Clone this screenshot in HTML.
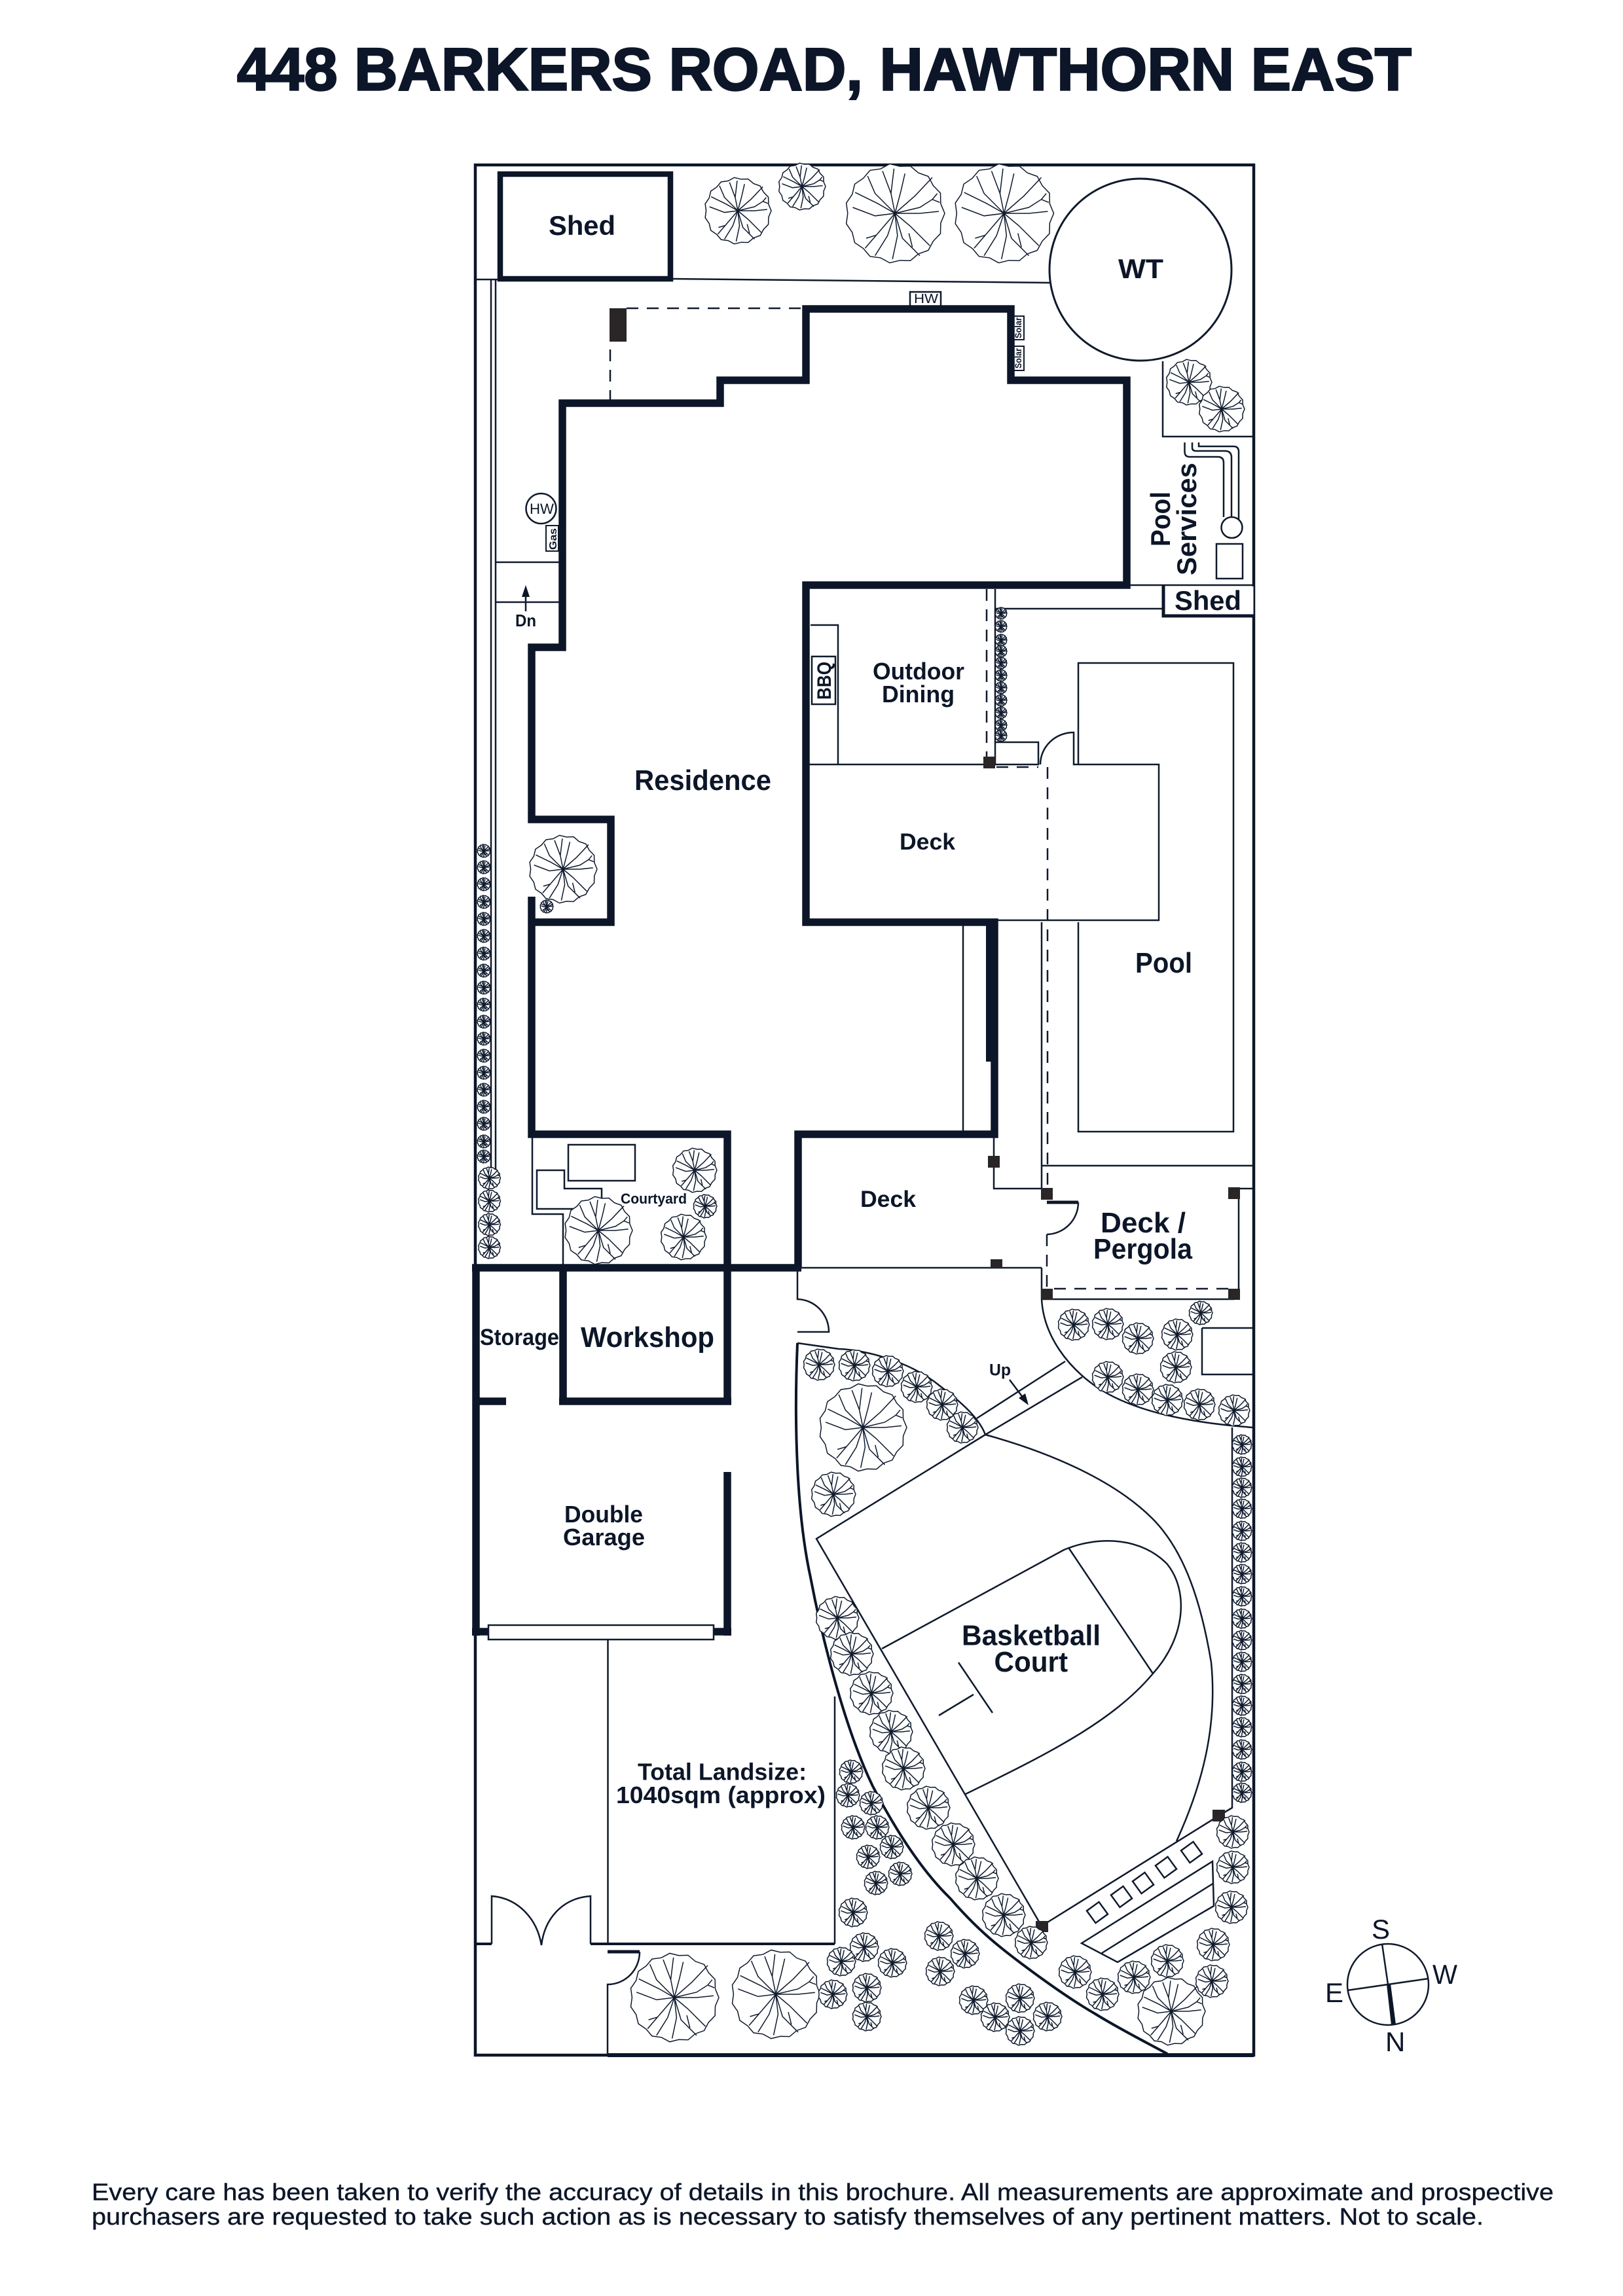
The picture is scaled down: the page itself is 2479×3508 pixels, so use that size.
<!DOCTYPE html>
<html><head><meta charset="utf-8"><title>448 Barkers Road, Hawthorn East</title>
<style>
html,body{margin:0;padding:0;background:#fff}
svg{display:block}
text{font-family:"Liberation Sans",sans-serif;font-weight:700;fill:#0c1628}
.l{fill:none;stroke:#0f1a2c;stroke-width:2.5}
.w{fill:none;stroke:#0c1628;stroke-width:11.5;stroke-linejoin:miter}
.d{fill:none;stroke:#0f1a2c;stroke-width:2.5;stroke-dasharray:18 13}
.p{fill:#2a2627}
.r{font-weight:400}
.t path{fill:#fff;stroke:#0f1a2c;stroke-width:1.5;vector-effect:non-scaling-stroke}
</style></head><body>
<svg xmlns="http://www.w3.org/2000/svg" width="2479" height="3508" viewBox="0 0 2479 3508">
<defs>
<g id="t" class="t"><path d="M100 0L91.9 19.5 91.4 40.7 76.9 55.8 66.9 74.3 47 81.4 30.9 95.1 9.9 94.5-10.5 99.5-29 89.4-50 86.6-63.6 70.6-80.9 58.8-85.9 38.2-97.8 20.8-95 0-97.8-20.8-85.9-38.2-80.9-58.8-63.6-70.6-50-86.6-29-89.4-10.5-99.5 9.9-94.5 30.9-95.1 47-81.4 66.9-74.3 76.9-55.8 91.4-40.7 91.9-19.5Z"/><path d="M0 0L-8-40-25-85M-8-40L-2-90M0 0L12-45 20-80M0 0L40-35 75-72M0 0L50-12 75-28 85-40M75-28L90-22M0 0L50 0 88-4M0 0L30 25 70 65M0 0L15 50 50 85M28 40L35 68M0 0L5 45-5 92M0 0L-15 45-40 85M0 0L-30 35-60 70M-38 44L-58 50M0 0L-40 5-85-12M0 0L-35-20-80-42M0 0L-40-40-55-75"/></g>
</defs>
<rect width="2479" height="3508" fill="#fff"/>

<text x="362" y="137.5" font-size="91.5" textLength="1794" lengthAdjust="spacingAndGlyphs" stroke="#0c1628" stroke-width="2.5">448 BARKERS ROAD, HAWTHORN EAST</text>

<path d="M726 252H1915V3140H726Z" fill="none" stroke="#0c1628" stroke-width="4.5"/>
<path d="M928 3140H1915" fill="none" stroke="#0c1628" stroke-width="6"/>

<rect x="764" y="266" width="260" height="160" fill="#fff" stroke="#0c1628" stroke-width="8.5"/>
<path class="l" d="M726 427H760M1028 426L1603 432"/>
<path class="l" d="M750 426V1791M757 426V1791M757 859H854M757 920H854"/>
<path class="l" d="M1776 552V667H1915"/>
<path class="l" d="M1721 894H1915M1520 930H1775"/>
<rect x="1776.500" y="896" width="138" height="45" fill="#fff" stroke="none"/>
<path d="M1915 941H1777V894" fill="none" stroke="#0c1628" stroke-width="5"/>

<path class="l" d="M1809.500 676V690Q1809.500 698 1817 698H1860Q1869 698 1869 707V790M1821 676V684Q1821 689 1827 689H1871Q1881 689 1881 699V790M1831 676V682H1884Q1892 682 1892 690V795"/>
<circle cx="1881.500" cy="806" r="16" fill="#fff" stroke="#0f1a2c" stroke-width="2.500"/>
<rect x="1858" y="831" width="40" height="53" fill="none" stroke="#0f1a2c" stroke-width="2.500"/>

<circle cx="1742" cy="412" r="139" fill="#fff" stroke="#0f1a2c" stroke-width="3"/>

<rect x="931" y="471" width="26" height="51" class="p"/>
<path class="d" d="M957 471H1226"/>
<path class="d" d="M932 534V616"/>
<rect x="1340" y="889" width="36" height="9" class="p"/>

<rect x="1390" y="446" width="47" height="22" fill="#fff" stroke="#0f1a2c" stroke-width="2.500"/>
<rect x="1548" y="483" width="16" height="36" fill="#fff" stroke="#0f1a2c" stroke-width="2"/>
<rect x="1548" y="529" width="16" height="37" fill="#fff" stroke="#0f1a2c" stroke-width="2"/>
<rect x="834" y="803" width="19" height="39" fill="#fff" stroke="#0f1a2c" stroke-width="2"/>
<circle cx="826.500" cy="777" r="23" fill="#fff" stroke="#0f1a2c" stroke-width="2.500"/>

<path class="l" d="M803 934V900"/><path d="M803 894L797 912H809Z" fill="#0c1628"/>

<path class="l" d="M1238 955H1280V1168M1231 1168H1511"/>
<rect x="1240" y="1003" width="36" height="73" fill="#fff" stroke="#0f1a2c" stroke-width="2.500"/>
<path class="d" d="M1507 900V1156"/>
<path class="l" d="M1520 900V1134"/>
<rect x="1520" y="1134" width="66" height="34" fill="#fff" stroke="#0f1a2c" stroke-width="2.500"/>
<path class="d" d="M1522 1172H1586" stroke-dasharray="12 10"/>
<path class="l" d="M1589 1168A51 49 0 0 1 1640 1119V1168H1770V1406H1522"/>
<path class="l" d="M1647 1168V1013H1884V1729H1647V1409"/>
<path class="d" d="M1600 1172V1823"/>
<path class="l" d="M1591 1409V1816M1591 1937V1985M1591 1781H1915"/>
<path class="l" d="M1471 1409V1733"/>
<rect x="1506" y="1409" width="18" height="213" fill="#0c1628"/>

<path class="l" d="M813 1733V1855H860V1937"/>
<rect x="868" y="1749" width="102" height="55" fill="none" stroke="#0f1a2c" stroke-width="2.500"/>
<path class="l" d="M820 1788H862V1816H919V1847H820Z"/>

<path class="w" d="M812 1370V1733H1111V1937"/>
<path class="w" d="M1219 1937V1733H1519V1409H1231V894H1721V581H1544V472H1231V581H1100V616H859V989H812V1252H933V1409H812"/>
<path class="w" d="M721 1937H1224M727 1937V2499M860 1937V2141M854 2141H1117M1111 1937V2141M1111 2249V2499M721 2493H746M1090 2493H1117M722 2141H773"/>
<rect x="746" y="2483" width="344" height="22" fill="#fff" stroke="#0f1a2c" stroke-width="2.500"/>

<path class="l" d="M1518 1733V1816H1591"/>
<path d="M1599 1837H1647" fill="none" stroke="#0c1628" stroke-width="5"/>
<path class="l" d="M1647 1837A49 49 0 0 1 1599 1886"/>
<path class="d" d="M1599 1886V1970"/>
<path class="l" d="M1218 1937H1591M1892 1823V1977M1892 1816H1914M1591 1985H1885"/>
<path class="d" d="M1610 1969H1885"/>
<rect x="1509" y="1766" width="18" height="18" class="p"/>
<rect x="1590" y="1815" width="18" height="18" class="p"/>
<rect x="1513" y="1924" width="18" height="13" class="p"/>
<rect x="1590" y="1969" width="18" height="17" class="p"/>
<rect x="1876" y="1969" width="18" height="17" class="p"/>
<rect x="1876" y="1814" width="18" height="18" class="p"/>
<rect x="1502" y="1156" width="18" height="18" class="p"/>

<path class="l" d="M1218 1937V1985A49 50 0 0 1 1266 2035H1218"/>
<path d="M1218 2052C1213 2170 1216 2310 1238 2410C1255 2500 1290 2640 1333 2729C1370 2800 1410 2860 1451 2900C1490 2945 1520 2970 1560 3000C1600 3030 1640 3058 1673 3077C1710 3100 1750 3120 1783 3138" fill="none" stroke="#0c1628" stroke-width="4"/>
<path class="l" d="M1218 2052L1281 2061C1320 2062 1390 2080 1435 2117C1465 2140 1495 2165 1505 2192"/>
<path class="l" d="M1505 2192C1600 2218 1700 2260 1760 2320C1810 2370 1835 2450 1850 2540C1860 2640 1835 2730 1797 2813"/>
<path class="l" d="M1505 2192L1247 2351L1591 2943"/>
<path class="l" d="M1347 2519L1625 2368C1680 2345 1745 2350 1783 2390C1815 2430 1812 2500 1761 2557C1700 2630 1600 2680 1475 2741"/>
<path class="l" d="M1633 2366L1761 2557M1464 2540L1516 2617M1434 2621L1487 2589"/>
<path class="l" d="M1492 2167L1627 2080M1505 2192L1653 2104"/>
<path class="l" d="M1542 2108L1566 2140"/><path d="M1571 2147L1556 2136L1566 2129Z" fill="#0c1628"/>
<path class="l" d="M1591 1985C1594 2040 1630 2090 1681 2123C1740 2160 1830 2175 1914 2181"/>
<path class="l" d="M1836 2029H1914M1836 2029V2100H1914"/>
<path class="l" d="M1882 2181V2762L1862 2774L1600 2937"/>
<rect x="1852" y="2765" width="19" height="18" class="p"/>
<rect x="1582" y="2935" width="19" height="17" class="p"/>
<path class="l" d="M1652 2969L1852 2844L1854 2912L1707 2998ZM1683 2984L1852.500 2878"/>
<g fill="none" stroke="#0f1a2c" stroke-width="2.500">
<rect x="-11.500" y="-11.500" width="23" height="23" transform="translate(1676 2922) rotate(-36)"/>
<rect x="-11.500" y="-11.500" width="23" height="23" transform="translate(1713 2898) rotate(-36)"/>
<rect x="-11.500" y="-11.500" width="23" height="23" transform="translate(1746 2877) rotate(-36)"/>
<rect x="-11.500" y="-11.500" width="23" height="23" transform="translate(1781 2853) rotate(-36)"/>
<rect x="-11.500" y="-11.500" width="23" height="23" transform="translate(1820 2830) rotate(-36)"/>
</g>

<path class="l" d="M928.500 2505V2970M1275 2592V2970"/>
<path d="M726 2970H751M902 2970H1275" fill="none" stroke="#0c1628" stroke-width="4"/>
<path class="l" d="M751 2970V2897C790 2900 820 2930 827 2972C832 2930 860 2900 902 2897V2970"/>
<path d="M928 2982H977" fill="none" stroke="#0c1628" stroke-width="5"/>
<path class="l" d="M977 2982C977 3010 955 3032 928 3032V3140"/>

<!-- big trees -->
<use href="#t" transform="translate(1127 322) scale(.51)"/>
<use href="#t" transform="translate(1225 285) scale(.36)"/>
<use href="#t" transform="translate(1367 326) scale(.76)"/>
<use href="#t" transform="translate(1533.500 326) scale(.76)"/>
<use href="#t" transform="translate(1816 584) scale(.35)"/>
<use href="#t" transform="translate(1866 625) scale(.35)"/>
<use href="#t" transform="translate(860 1328) scale(.52)"/>
<use href="#t" transform="translate(835 1385) scale(.1)"/>
<use href="#t" transform="translate(914 1880) scale(.52)"/>
<use href="#t" transform="translate(1061 1788) scale(.34)"/>
<use href="#t" transform="translate(1077 1843) scale(.18)"/>
<use href="#t" transform="translate(1044 1890) scale(.35)"/>
<use href="#t" transform="translate(1318 2181) scale(.67)"/>
<use href="#t" transform="translate(1273 2283) scale(.34)"/>
<use href="#t" transform="translate(1030 3052) scale(.68)"/>
<use href="#t" transform="translate(1185 3047) scale(.68)"/>
<use href="#t" transform="translate(1789 3073) scale(.52)"/>

<!-- left hedge -->
<g>
<use href="#t" transform="translate(739 1300) scale(.1)"/><use href="#t" transform="translate(739 1325) scale(.1)"/><use href="#t" transform="translate(739 1351) scale(.1)"/><use href="#t" transform="translate(739 1378) scale(.1)"/><use href="#t" transform="translate(739 1404) scale(.1)"/><use href="#t" transform="translate(739 1430) scale(.1)"/><use href="#t" transform="translate(739 1457) scale(.1)"/><use href="#t" transform="translate(739 1483) scale(.1)"/><use href="#t" transform="translate(739 1509) scale(.1)"/><use href="#t" transform="translate(739 1535) scale(.1)"/><use href="#t" transform="translate(739 1561) scale(.1)"/><use href="#t" transform="translate(739 1587) scale(.1)"/><use href="#t" transform="translate(739 1613) scale(.1)"/><use href="#t" transform="translate(739 1639) scale(.1)"/><use href="#t" transform="translate(739 1665) scale(.1)"/><use href="#t" transform="translate(739 1691) scale(.1)"/><use href="#t" transform="translate(739 1717) scale(.1)"/><use href="#t" transform="translate(739 1744) scale(.1)"/><use href="#t" transform="translate(739 1767) scale(.1)"/>
<use href="#t" transform="translate(747.500 1800) scale(.17)"/><use href="#t" transform="translate(747.500 1835) scale(.17)"/><use href="#t" transform="translate(747.500 1871) scale(.17)"/><use href="#t" transform="translate(747.500 1906) scale(.17)"/>
</g>
<!-- dining hedge -->
<g>
<use href="#t" transform="translate(1529 937) scale(.09)"/><use href="#t" transform="translate(1529 957) scale(.09)"/><use href="#t" transform="translate(1529 978) scale(.09)"/><use href="#t" transform="translate(1529 995) scale(.09)"/><use href="#t" transform="translate(1529 1013) scale(.09)"/><use href="#t" transform="translate(1529 1032) scale(.09)"/><use href="#t" transform="translate(1529 1051) scale(.09)"/><use href="#t" transform="translate(1529 1070) scale(.09)"/><use href="#t" transform="translate(1529 1089) scale(.09)"/><use href="#t" transform="translate(1529 1108) scale(.09)"/><use href="#t" transform="translate(1529 1124) scale(.09)"/>
</g>
<!-- right hedge -->
<g>
<use href="#t" transform="translate(1897 2207) scale(.15)"/><use href="#t" transform="translate(1897 2241) scale(.15)"/><use href="#t" transform="translate(1897 2273) scale(.15)"/><use href="#t" transform="translate(1897 2305) scale(.15)"/><use href="#t" transform="translate(1897 2339) scale(.15)"/><use href="#t" transform="translate(1897 2372) scale(.15)"/><use href="#t" transform="translate(1897 2405) scale(.15)"/><use href="#t" transform="translate(1897 2439) scale(.15)"/><use href="#t" transform="translate(1897 2473) scale(.15)"/><use href="#t" transform="translate(1897 2506) scale(.15)"/><use href="#t" transform="translate(1897 2539) scale(.15)"/><use href="#t" transform="translate(1897 2573) scale(.15)"/><use href="#t" transform="translate(1897 2606) scale(.15)"/><use href="#t" transform="translate(1897 2639) scale(.15)"/><use href="#t" transform="translate(1897 2673) scale(.15)"/><use href="#t" transform="translate(1897 2707) scale(.15)"/><use href="#t" transform="translate(1897 2739) scale(.15)"/>
</g>
<!-- beds -->
<g>
<use href="#t" transform="translate(1251 2085) scale(.24)"/><use href="#t" transform="translate(1305 2086) scale(.24)"/><use href="#t" transform="translate(1356 2095) scale(.24)"/><use href="#t" transform="translate(1400 2119) scale(.24)"/><use href="#t" transform="translate(1439 2146) scale(.24)"/><use href="#t" transform="translate(1470 2181) scale(.24)"/>
<use href="#t" transform="translate(1640 2024) scale(.24)"/><use href="#t" transform="translate(1692 2023) scale(.24)"/><use href="#t" transform="translate(1738 2045) scale(.24)"/><use href="#t" transform="translate(1798 2039) scale(.24)"/><use href="#t" transform="translate(1834 2006) scale(.18)"/><use href="#t" transform="translate(1796 2089) scale(.24)"/><use href="#t" transform="translate(1692 2104) scale(.24)"/><use href="#t" transform="translate(1738 2123) scale(.24)"/><use href="#t" transform="translate(1783 2139) scale(.24)"/><use href="#t" transform="translate(1832 2146) scale(.24)"/><use href="#t" transform="translate(1885 2155) scale(.24)"/>
<use href="#t" transform="translate(1279 2472) scale(.33)"/><use href="#t" transform="translate(1301 2527) scale(.33)"/><use href="#t" transform="translate(1331 2587) scale(.33)"/><use href="#t" transform="translate(1361 2646) scale(.33)"/><use href="#t" transform="translate(1380 2702) scale(.33)"/><use href="#t" transform="translate(1418 2762) scale(.33)"/><use href="#t" transform="translate(1456 2818) scale(.33)"/><use href="#t" transform="translate(1492 2870) scale(.33)"/><use href="#t" transform="translate(1533 2926) scale(.33)"/><use href="#t" transform="translate(1575 2968) scale(.25)"/>
<use href="#t" transform="translate(1300 2707) scale(.18)"/><use href="#t" transform="translate(1295 2743) scale(.18)"/><use href="#t" transform="translate(1331 2755) scale(.18)"/><use href="#t" transform="translate(1303 2792) scale(.18)"/><use href="#t" transform="translate(1340 2792) scale(.18)"/><use href="#t" transform="translate(1362 2822) scale(.18)"/><use href="#t" transform="translate(1326 2837) scale(.18)"/><use href="#t" transform="translate(1375 2863) scale(.18)"/><use href="#t" transform="translate(1338 2877) scale(.18)"/>
<use href="#t" transform="translate(1303 2922) scale(.22)"/><use href="#t" transform="translate(1320 2975) scale(.22)"/><use href="#t" transform="translate(1285 2997) scale(.22)"/><use href="#t" transform="translate(1363 2999) scale(.22)"/><use href="#t" transform="translate(1324 3037) scale(.22)"/><use href="#t" transform="translate(1272 3047) scale(.22)"/><use href="#t" transform="translate(1324 3081) scale(.22)"/>
<use href="#t" transform="translate(1434 2958) scale(.22)"/><use href="#t" transform="translate(1474 2985) scale(.22)"/><use href="#t" transform="translate(1436 3012) scale(.22)"/><use href="#t" transform="translate(1487 3056) scale(.22)"/><use href="#t" transform="translate(1520 3082) scale(.22)"/><use href="#t" transform="translate(1558 3053) scale(.22)"/><use href="#t" transform="translate(1600 3081) scale(.22)"/><use href="#t" transform="translate(1558 3103) scale(.22)"/>
<use href="#t" transform="translate(1883 2799) scale(.25)"/><use href="#t" transform="translate(1883 2853) scale(.25)"/><use href="#t" transform="translate(1881 2914) scale(.25)"/><use href="#t" transform="translate(1853 2971) scale(.25)"/><use href="#t" transform="translate(1783 2996) scale(.25)"/><use href="#t" transform="translate(1851 3027) scale(.25)"/><use href="#t" transform="translate(1642 3013) scale(.25)"/><use href="#t" transform="translate(1684 3047) scale(.25)"/><use href="#t" transform="translate(1732 3021) scale(.25)"/>
</g>

<!-- labels -->
<text x="838" y="359" font-size="42" textLength="102" lengthAdjust="spacingAndGlyphs">Shed</text>
<text x="1708" y="425" font-size="42" textLength="69" lengthAdjust="spacingAndGlyphs">WT</text>
<text x="1794" y="932" font-size="42" textLength="102" lengthAdjust="spacingAndGlyphs">Shed</text>
<text x="1396" y="463" font-size="20" textLength="37" lengthAdjust="spacingAndGlyphs" class="r">HW</text>
<text x="809" y="785" font-size="22" textLength="37" lengthAdjust="spacingAndGlyphs" class="r">HW</text>
<text x="0" y="0" font-size="16" textLength="33" lengthAdjust="spacingAndGlyphs" transform="translate(850 840) rotate(-90)">Gas</text>
<text x="0" y="0" font-size="14" textLength="32" lengthAdjust="spacingAndGlyphs" transform="translate(1560 517) rotate(-90)">Solar</text>
<text x="0" y="0" font-size="14" textLength="31" lengthAdjust="spacingAndGlyphs" transform="translate(1560 563) rotate(-90)">Solar</text>
<text x="0" y="0" font-size="42" textLength="84" lengthAdjust="spacingAndGlyphs" transform="translate(1787 835) rotate(-90)">Pool</text>
<text x="0" y="0" font-size="42" textLength="172" lengthAdjust="spacingAndGlyphs" transform="translate(1827 879) rotate(-90)">Services</text>
<text x="0" y="0" font-size="30" textLength="58" lengthAdjust="spacingAndGlyphs" transform="translate(1269 1069) rotate(-90)">BBQ</text>
<text x="787" y="957" font-size="26" textLength="32" lengthAdjust="spacingAndGlyphs">Dn</text>
<text x="969" y="1207" font-size="44" textLength="209" lengthAdjust="spacingAndGlyphs">Residence</text>
<text x="1333" y="1038" font-size="36" textLength="140" lengthAdjust="spacingAndGlyphs">Outdoor</text>
<text x="1347" y="1073" font-size="36" textLength="111" lengthAdjust="spacingAndGlyphs">Dining</text>
<text x="1374" y="1298" font-size="35" textLength="85" lengthAdjust="spacingAndGlyphs">Deck</text>
<text x="1734" y="1486" font-size="44" textLength="87" lengthAdjust="spacingAndGlyphs">Pool</text>
<text x="1314" y="1844" font-size="35" textLength="85" lengthAdjust="spacingAndGlyphs">Deck</text>
<text x="1681" y="1883" font-size="44" textLength="130" lengthAdjust="spacingAndGlyphs">Deck /</text>
<text x="1670" y="1923" font-size="44" textLength="151" lengthAdjust="spacingAndGlyphs">Pergola</text>
<text x="948" y="1839" font-size="22" textLength="101" lengthAdjust="spacingAndGlyphs">Courtyard</text>
<text x="733" y="2055" font-size="35" textLength="121" lengthAdjust="spacingAndGlyphs">Storage</text>
<text x="887" y="2058" font-size="44" textLength="204" lengthAdjust="spacingAndGlyphs">Workshop</text>
<text x="862" y="2326" font-size="36" textLength="120" lengthAdjust="spacingAndGlyphs">Double</text>
<text x="860" y="2361" font-size="36" textLength="125" lengthAdjust="spacingAndGlyphs">Garage</text>
<text x="1511" y="2101.500" font-size="25" textLength="33" lengthAdjust="spacingAndGlyphs">Up</text>
<text x="1469" y="2513.500" font-size="44" textLength="212" lengthAdjust="spacingAndGlyphs">Basketball</text>
<text x="1518.500" y="2554" font-size="44" textLength="112.500" lengthAdjust="spacingAndGlyphs">Court</text>
<text x="974" y="2719.500" font-size="36" textLength="258" lengthAdjust="spacingAndGlyphs">Total Landsize:</text>
<text x="941" y="2755" font-size="36" textLength="320" lengthAdjust="spacingAndGlyphs">1040sqm (approx)</text>

<!-- compass -->
<circle cx="2120" cy="3032" r="62" fill="none" stroke="#0f1a2c" stroke-width="2.500"/>
<path class="l" d="M2111 2970L2120 3032M2058 3041L2182 3023"/>
<path d="M2118 3032L2124 3031L2132 3093L2125 3094Z" fill="#0c1628"/>
<text x="2095" y="2962" font-size="42" class="r">S</text>
<text x="2188" y="3031" font-size="42" class="r" textLength="38" lengthAdjust="spacingAndGlyphs">W</text>
<text x="2024" y="3059" font-size="42" class="r">E</text>
<text x="2116" y="3134" font-size="42" class="r">N</text>

<text x="140" y="3361.500" font-size="36" class="r" textLength="2233" lengthAdjust="spacingAndGlyphs" stroke="#0c1628" stroke-width=".4">Every care has been taken to verify the accuracy of details in this brochure. All measurements are approximate and prospective</text>
<text x="140" y="3399" font-size="36" class="r" textLength="2126" lengthAdjust="spacingAndGlyphs" stroke="#0c1628" stroke-width=".4">purchasers are requested to take such action as is necessary to satisfy themselves of any pertinent matters. Not to scale.</text>
</svg>
</body></html>
